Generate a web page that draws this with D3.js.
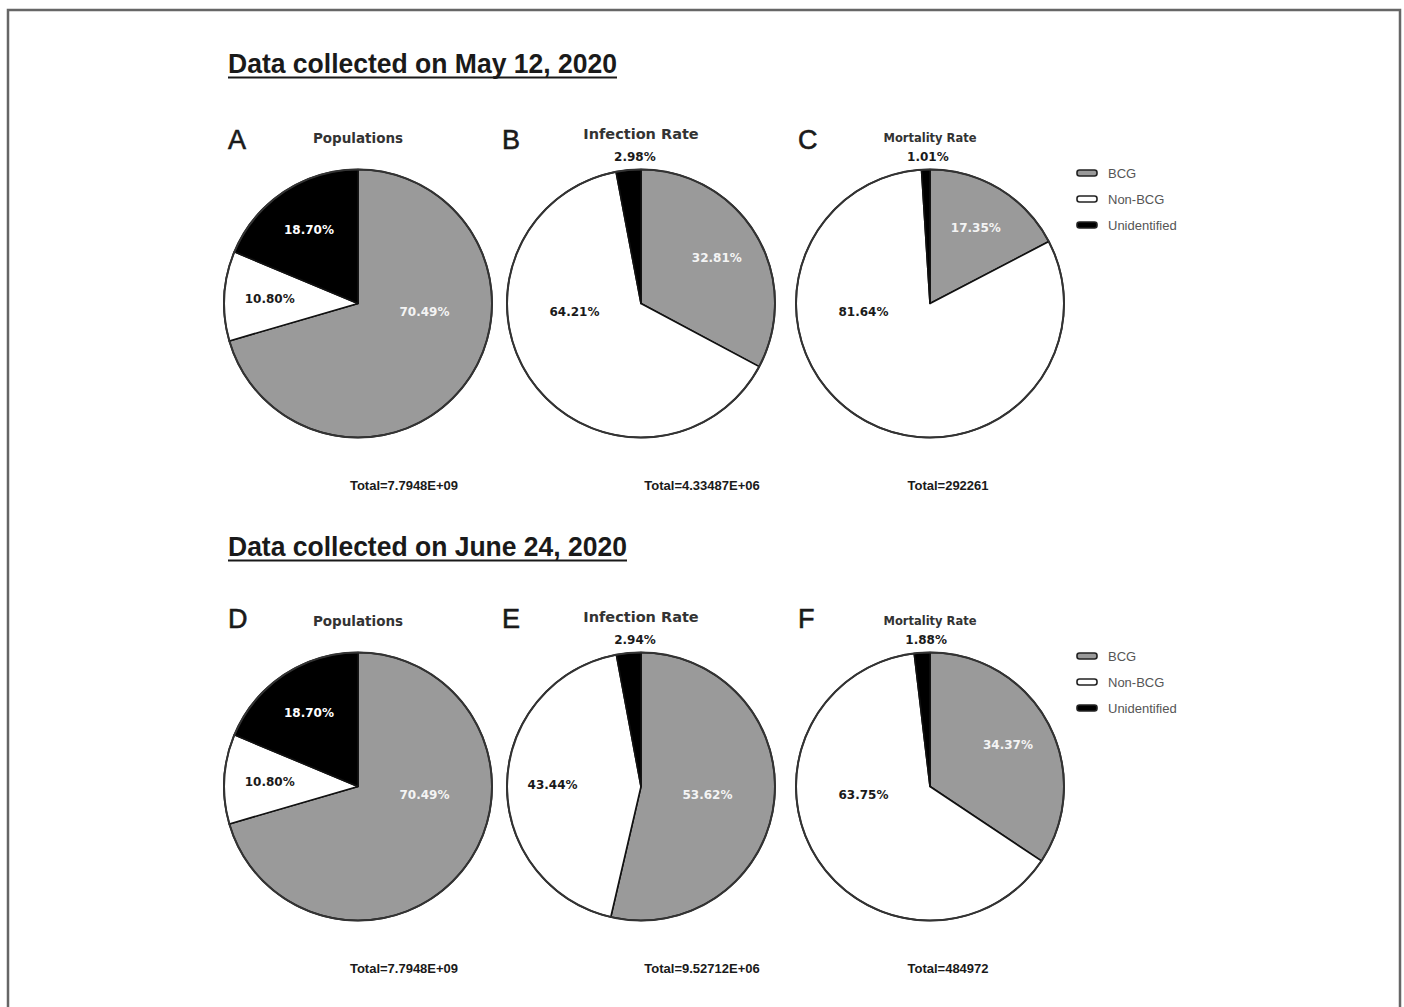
<!DOCTYPE html>
<html>
<head>
<meta charset="utf-8">
<title>BCG vaccination and COVID-19 distribution</title>
<script src="https://cdn.jsdelivr.net/npm/d3@7"></script>
<style>
  html, body { margin: 0; padding: 0; background: #fff; }
  svg { display: block; }
</style>
</head>
<body>
<div id="chart"></div>
<script>
// ---- data ----
const categories = ["BCG", "Non-BCG", "Unidentified"];
const panelLetters = [["A", "B", "C"], ["D", "E", "F"]];
const panelTitles = ["Populations", "Infection Rate", "Mortality Rate"];
const sectionTitles = ["Data collected on May 12, 2020", "Data collected on June 24, 2020"];

// shares (%) in the order BCG, Non-BCG, Unidentified
const populationMay = [70.49, 10.80, 18.70];
const infectionMay  = [32.81, 64.21, 2.98];
const mortalityMay  = [17.35, 81.64, 1.01];
const populationJun = [70.49, 10.80, 18.70];
const infectionJun  = [53.62, 43.44, 2.94];
const mortalityJun  = [34.37, 63.75, 1.88];

const totalsMay = ["7.7948E+09", "4.33487E+06", "292261"];
const totalsJun = ["7.7948E+09", "9.52712E+06", "484972"];

const rows = [
  { title: sectionTitles[0], letters: panelLetters[0], series: [populationMay, infectionMay, mortalityMay], totals: totalsMay },
  { title: sectionTitles[1], letters: panelLetters[1], series: [populationJun, infectionJun, mortalityJun], totals: totalsJun }
];

// ---- layout ----
const W = 1404, H = 1007;
const rowOffset = [0, 483];
const pieCx = [358, 641, 930];
const pieCy = 303.5;
const R = 134;
const letterX = [228, 502, 798];
const letterY = [149, 145];
const totalX = [404, 702, 948];
const titleSizes = [13.5, 14.5, 11.5];
const titleBaselines = [143, 139, 142];
const sectionTitleLen = [389, 399];

const color = d3.scaleOrdinal().domain(categories).range(["#9a9a9a", "#ffffff", "#000000"]);
const labelColor = d3.scaleOrdinal().domain(categories).range(["#f4f4f4", "#1a1a1a", "#ffffff"]);
const fmt = v => d3.format(".2f")(v) + "%";

const svg = d3.select("#chart").append("svg")
  .attr("width", W).attr("height", H)
  .attr("viewBox", `0 0 ${W} ${H}`);

svg.append("rect").attr("width", W).attr("height", H).attr("fill", "#fff");

// outer frame (open at the bottom)
svg.append("path")
  .attr("d", `M8,${H + 5} V10 H1400 V${H + 5}`)
  .attr("fill", "none").attr("stroke", "#666").attr("stroke-width", 2.5);

const pie = d3.pie().sort(null).value(d => d.value);
const arc = d3.arc().innerRadius(0).outerRadius(R);

// where each percentage sits: tiny slices above the pie, slices wider than
// a half-turn on the horizontal through the centre, the rest on the bisector
function labelPosition(a) {
  const span = a.endAngle - a.startAngle;
  const mid = (a.startAngle + a.endAngle) / 2;
  if (a.data.value < 5) {
    const rr = R + 12;
    return { x: Math.sin(mid) * rr * 0.45, y: -R - 13, outside: true };
  }
  if (span > Math.PI) {
    const nudge = 7 * Math.PI / 180;
    const cands = [Math.PI / 2 + nudge, 3 * Math.PI / 2 - nudge]
      .filter(t => t > a.startAngle && t < a.endAngle)
      .sort((p, q) => Math.abs(p - mid) - Math.abs(q - mid));
    const t = cands.length ? cands[0] : mid;
    const rr = R * 0.5;
    return { x: Math.sin(t) * rr, y: -Math.cos(t) * rr, outside: false };
  }
  const rr = R * 0.66;
  return { x: Math.sin(mid) * rr, y: -Math.cos(mid) * rr, outside: false };
}

rows.forEach((row, ri) => {
  const dy = rowOffset[ri];
  const g = svg.append("g").attr("transform", `translate(0,${dy})`);

  // section heading, underlined
  g.append("text")
    .attr("x", 228).attr("y", 73)
    .attr("font-family", "'Liberation Sans Narrow', 'Liberation Sans', Arial, sans-serif")
    .attr("font-weight", "bold").attr("font-size", 28)
    .attr("fill", "#1a1a1a")
    .attr("textLength", sectionTitleLen[ri]).attr("lengthAdjust", "spacingAndGlyphs")
    .text(row.title);
  g.append("line")
    .attr("x1", 228).attr("x2", 228 + sectionTitleLen[ri])
    .attr("y1", 77.5).attr("y2", 77.5)
    .attr("stroke", "#1a1a1a").attr("stroke-width", 2);

  row.series.forEach((vals, pi) => {
    const cx = pieCx[pi];
    const pg = g.append("g").attr("transform", `translate(${cx},${pieCy})`);

    // panel letter
    g.append("text")
      .attr("x", letterX[pi]).attr("y", letterY[ri])
      .attr("font-family", "'Liberation Sans', Arial, sans-serif")
      .attr("font-size", 27).attr("fill", "#1a1a1a")
      .attr("stroke", "#1a1a1a").attr("stroke-width", 0.6)
      .text(row.letters[pi]);

    // panel title
    g.append("text")
      .attr("x", cx).attr("y", titleBaselines[pi])
      .attr("text-anchor", "middle")
      .attr("font-family", "'DejaVu Sans', sans-serif")
      .attr("font-weight", "bold").attr("font-size", titleSizes[pi])
      .attr("fill", "#333")
      .text(panelTitles[pi]);

    const data = vals.map((v, i) => ({ key: categories[i], value: v }));
    const arcs = pie(data);

    pg.selectAll("path.slice").data(arcs).join("path")
      .attr("class", "slice")
      .attr("d", arc)
      .attr("fill", d => color(d.data.key))
      .attr("stroke", "#111").attr("stroke-width", 1.6)
      .attr("stroke-linejoin", "round");

    pg.append("circle").attr("r", R)
      .attr("fill", "none").attr("stroke", "#333").attr("stroke-width", 2);

    pg.selectAll("text.pct").data(arcs).join("text")
      .attr("class", "pct")
      .each(function (d) {
        const p = labelPosition(d);
        d3.select(this)
          .attr("x", p.x).attr("y", p.y)
          .attr("fill", p.outside ? "#1a1a1a" : labelColor(d.data.key));
      })
      .attr("text-anchor", "middle")
      .attr("dominant-baseline", "central")
      .attr("font-family", "'DejaVu Sans', sans-serif")
      .attr("font-weight", "bold").attr("font-size", 12)
      .text(d => fmt(d.data.value));

    // total
    g.append("text")
      .attr("x", totalX[pi]).attr("y", 490)
      .attr("text-anchor", "middle")
      .attr("font-family", "'Liberation Sans', Arial, sans-serif")
      .attr("font-weight", "bold").attr("font-size", 13)
      .attr("fill", "#1a1a1a")
      .text("Total=" + row.totals[pi]);
  });

  // legend
  const lg = g.append("g").attr("transform", "translate(1077,173)");
  const item = lg.selectAll("g").data(categories).join("g")
    .attr("transform", (d, i) => `translate(0,${i * 26})`);
  item.append("rect")
    .attr("x", 0).attr("y", -3).attr("width", 20).attr("height", 6).attr("rx", 2.5)
    .attr("fill", d => color(d)).attr("stroke", "#222").attr("stroke-width", 1.6);
  item.append("text")
    .attr("x", 31).attr("y", 0)
    .attr("dominant-baseline", "central")
    .attr("font-family", "'Liberation Sans', Arial, sans-serif")
    .attr("font-size", 13).attr("fill", "#555")
    .text(d => d);
});
</script>
</body>
</html>
